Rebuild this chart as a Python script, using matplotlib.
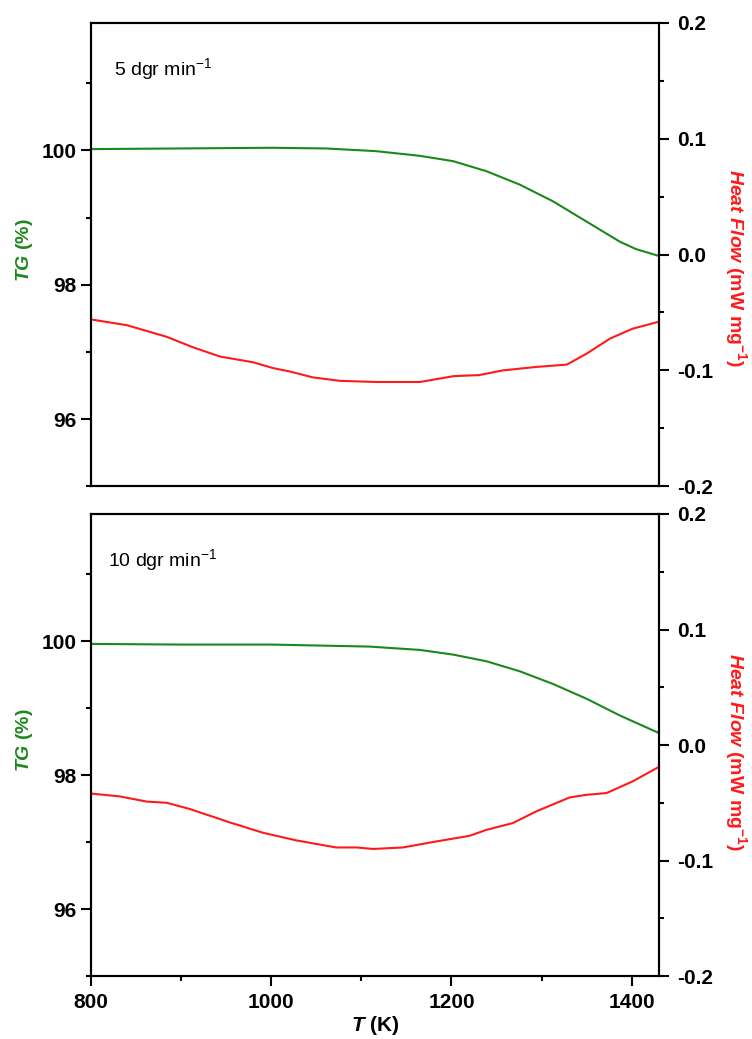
#!/usr/bin/env python3
"""TG and heat-flow curves at two heating rates, stacked panels with twin y axes."""

import matplotlib

matplotlib.use("Agg")
import matplotlib.pyplot as plt
from matplotlib.ticker import FuncFormatter, MultipleLocator

# top panel, 5 dgr/min
T_TG_5 = [800, 900, 1000, 1060, 1116, 1165, 1202, 1239, 1276, 1313, 1350, 1387, 1405, 1430]
TG_5 = [100.02, 100.03, 100.04, 100.03, 99.99, 99.92, 99.84, 99.69, 99.49, 99.24, 98.94, 98.64, 98.53, 98.43]
T_HF_5 = [800, 840, 884, 913, 943, 980, 1002, 1021, 1046, 1076, 1116, 1165, 1202, 1231,
          1257, 1294, 1328, 1350, 1376, 1401, 1430]
HF_5 = [-0.056, -0.061, -0.071, -0.080, -0.088, -0.093, -0.098, -0.101, -0.106, -0.109, -0.110,
        -0.110, -0.105, -0.104, -0.100, -0.097, -0.095, -0.0855, -0.0725, -0.064, -0.058]

# bottom panel, 10 dgr/min
T_TG_10 = [800, 900, 1000, 1109, 1165, 1202, 1239, 1276, 1313, 1350, 1387, 1430]
TG_10 = [99.96, 99.95, 99.95, 99.92, 99.87, 99.80, 99.70, 99.55, 99.36, 99.14, 98.89, 98.63]
T_HF_10 = [800, 832, 862, 884, 910, 954, 991, 1028, 1072, 1095, 1113, 1146, 1183, 1220,
           1239, 1268, 1294, 1331, 1350, 1372, 1401, 1430]
HF_10 = [-0.042, -0.0445, -0.049, -0.050, -0.0555, -0.067, -0.076, -0.0826, -0.0887, -0.0887,
         -0.090, -0.0887, -0.0835, -0.0786, -0.0734, -0.0676, -0.0575, -0.0454, -0.0431, -0.0416,
         -0.0315, -0.019]

PANELS = [
    ("5 dgr min$^{-1}$", T_TG_5, TG_5, T_HF_5, HF_5),
    ("10 dgr min$^{-1}$", T_TG_10, TG_10, T_HF_10, HF_10),
]

GREEN = "#1c881c"
RED = "#ff1a1a"

plt.rcParams.update(
    {
        "font.family": ["Liberation Sans", "DejaVu Sans"],
        "mathtext.fontset": "custom",
        "mathtext.rm": "Liberation Sans",
        "mathtext.it": "Liberation Sans:italic",
        "mathtext.bf": "Liberation Sans:bold",
        "mathtext.bfit": "Liberation Sans:italic:bold",
        "axes.linewidth": 1.5,
    }
)

fig = plt.figure(figsize=(7.52, 10.39), dpi=100)
boxes = [(0.121, 0.532, 0.755, 0.446), (0.121, 0.0606, 0.755, 0.4447)]
right_label_y = [0.47, 0.485]

for index, (box, (note, t_tg, tg, t_hf, hf)) in enumerate(zip(boxes, PANELS)):
    ax = fig.add_axes(box)
    ax2 = ax.twinx()

    ax.plot(t_tg, tg, color=GREEN, linewidth=1.5)
    ax2.plot(t_hf, hf, color=RED, linewidth=1.5)

    ax.set_xlim(800, 1430)
    ax.set_ylim(95, 101.9)
    ax2.set_ylim(-0.2, 0.2)

    ax.set_yticks([96, 98, 100])
    ax.yaxis.set_minor_locator(MultipleLocator(1))
    ax2.yaxis.set_major_locator(MultipleLocator(0.1))
    ax2.yaxis.set_minor_locator(MultipleLocator(0.05))
    # Origin writes negative ticks with a plain hyphen
    ax2.yaxis.set_major_formatter(FuncFormatter(lambda v, _: f"{v:.1f}".replace("-0.0", "0.0")))
    ax.xaxis.set_major_locator(MultipleLocator(200))
    ax.xaxis.set_minor_locator(MultipleLocator(100))

    for a in (ax, ax2):
        a.tick_params(which="major", length=7.5, width=1.5, labelsize=15, pad=3)
        a.tick_params(which="minor", length=3.8, width=1.5)
        for label in a.get_yticklabels() + a.get_xticklabels():
            label.set_fontweight("bold")
    ax2.tick_params(axis="y", pad=6)

    if index == 0:
        ax.tick_params(axis="x", which="both", bottom=False, labelbottom=False)
    else:
        ax.tick_params(axis="x", which="major", pad=5)
        ax.set_xlabel(r"$\mathbfit{T}$ (K)", fontsize=15, fontweight="bold", labelpad=1)

    ax.set_ylabel(r"$\mathbfit{TG}$ (%)", color=GREEN, fontsize=14, fontweight="bold")
    ax.yaxis.set_label_coords(-0.099, 0.51)
    ax2.set_ylabel(r"$\mathbfit{Heat\ Flow}$ (mW mg$^{\mathbf{-1}}$)", color=RED, fontsize=14,
                   fontweight="bold", rotation=270)
    ax2.yaxis.set_label_coords(1.158, right_label_y[index])

    ax.text(0.04 if index == 0 else 0.03, 0.9, note, transform=ax.transAxes,
            fontsize=14, va="center", ha="left")

fig.savefig("out.png", dpi=100)
